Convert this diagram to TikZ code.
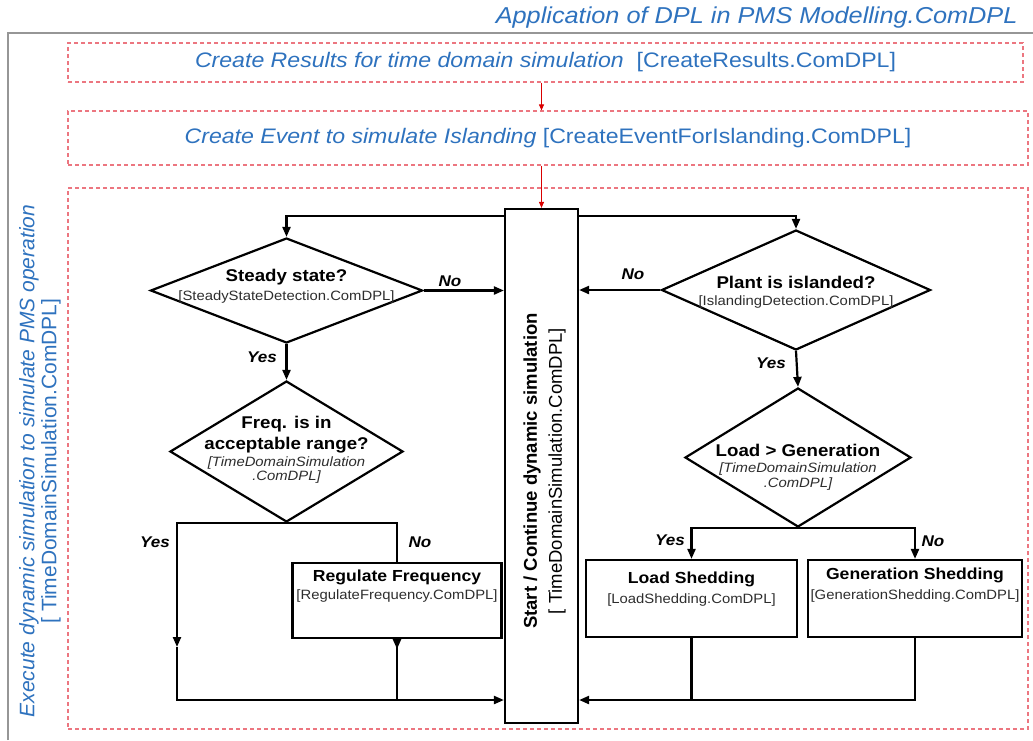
\documentclass[tikz,border=0pt]{standalone}
\usepackage{fontspec}
\setmainfont{Liberation Sans}[FakeStretch=1.1]
\newfontfamily\upfont{Liberation Sans}
\usetikzlibrary{shapes.geometric,arrows.meta,calc}
\definecolor{dplblue}{RGB}{46,114,190}
\definecolor{dashred}{RGB}{236,118,128}
\definecolor{subgray}{RGB}{45,45,45}
\definecolor{framegray}{RGB}{150,150,150}
\newcommand{\fsz}[1]{\fontsize{#1}{#1}\selectfont}

\begin{document}
\begin{tikzpicture}[x=1pt, y=-1pt,
  dashbox/.style={draw=dashred, dash pattern=on 4pt off 3pt, line width=1.2pt, inner sep=0pt},
  blk/.style={draw, line width=2.2pt, inner sep=0pt},
  dia/.style={draw, diamond, line width=2.2pt, inner sep=0pt},
  flow/.style={line width=2.2pt},
  arr/.style={line width=2.2pt, -{Triangle[length=10pt,width=8pt]}},
  redarr/.style={red!85!black, line width=1pt, -{Triangle[length=6pt,width=5pt]}},
  bluetxt/.style={text=dplblue, font=\fsz{21}},
  yn/.style={font=\fsz{15.5}\bfseries\itshape},
  dtxt/.style={align=center, font=\fsz{13.5}, inner sep=0pt},
  btxt/.style={align=center, font=\fsz{13.5}, inner sep=0pt, anchor=north}]
  \useasboundingbox (0,0) rectangle (1033,740);
  \draw[framegray, line width=2pt] (8,740) -- (8,33) -- (1033,33);
  \node[anchor=base east, text=dplblue, font=\fsz{23}\itshape] (title) at (1021,23) {Application of DPL in PMS Modelling.ComDPL};

  % the three script boxes
  \node[dashbox, minimum width=955, minimum height=39, bluetxt] (res) at (545.5,62.5) {\itshape Create Results for time domain simulation\upshape\ \ [CreateResults.ComDPL]};
  \node[dashbox, minimum width=960, minimum height=54, bluetxt] (evt) at (548,138) {\itshape Create Event to simulate Islanding\upshape\ [CreateEventForIslanding.ComDPL]};
  \node[dashbox, minimum width=960, minimum height=541] (exe) at (548,458.5) {};
  \node[rotate=90, align=center, text=dplblue, font=\upfont\fontsize{21}{22}\selectfont] (exetxt) at (40,461) {\itshape Execute dynamic simulation to simulate PMS operation\\{[} TimeDomainSimulation.ComDPL]};

  % simulation block
  \node[blk, minimum width=73, minimum height=514] (sim) at (541.5,466) {};
  \node[rotate=90, align=center, font=\upfont\fontsize{18.5}{25}\selectfont] (simtxt) at ($(sim)+(3,5)$) {\bfseries Start / Continue dynamic simulation\\{[} TimeDomainSimulation.ComDPL]};

  % decisions
  \node[dia, minimum width=272, minimum height=105] (ss) at (286.5,290.5) {};
  \node[dtxt] (sstxt) at (286.5,286) {{\fsz{17}\bfseries Steady state?}\\[5pt]\textcolor{subgray}{[SteadyStateDetection.ComDPL]}};
  \node[dia, minimum width=233, minimum height=141] (freq) at (286.5,451.5) {};
  \node[dtxt] (freqtxt) at (286.5,450) {{\fsz{17}\bfseries Freq. is in}\\[4pt]{\fsz{17}\bfseries acceptable range?}\\[3pt]\textcolor{subgray}{\itshape [TimeDomainSimulation}\\[1pt]\textcolor{subgray}{\itshape .ComDPL]}};
  \node[dia, minimum width=269, minimum height=120] (isl) at (796,290) {};
  \node[dtxt] (isltxt) at (796,292) {{\fsz{17}\bfseries Plant is islanded?}\\[4pt]\textcolor{subgray}{[IslandingDetection.ComDPL]}};
  \node[dia, minimum width=226, minimum height=139] (load) at (798,457.5) {};
  \node[dtxt] (loadtxt) at (798,467) {{\fsz{17}\bfseries Load > Generation}\\[3pt]\textcolor{subgray}{\itshape [TimeDomainSimulation}\\[1pt]\textcolor{subgray}{\itshape .ComDPL]}};

  % actions
  \node[blk, minimum width=209, minimum height=75] (reg) at (397,600.5) {};
  \node[btxt] (regtxt) at ($(reg.north)+(0,8)$) {{\fsz{16}\bfseries Regulate Frequency}\\[4pt]\textcolor{subgray}{[RegulateFrequency.ComDPL]}};
  \node[blk, minimum width=211, minimum height=77] (ls) at (691.5,598.5) {};
  \node[btxt] (lstxt) at ($(ls.north)+(0,13)$) {{\fsz{16}\bfseries Load Shedding}\\[6pt]\textcolor{subgray}{[LoadShedding.ComDPL]}};
  \node[blk, minimum width=214, minimum height=77] (gs) at (915,598.5) {};
  \node[btxt] (gstxt) at ($(gs.north)+(0,9)$) {{\fsz{16}\bfseries Generation Shedding}\\[6pt]\textcolor{subgray}{[GenerationShedding.ComDPL]}};

  % connectors
  \draw[redarr] (sim.north |- res.south) -- (sim.north |- evt.north);
  \draw[redarr] (sim.north |- evt.south) -- (sim.north);
  \draw[arr] ($(sim.north west)+(0,8)$) -| (ss.north);
  \draw[arr] ($(sim.north east)+(0,8)$) -| (isl.north);
  \draw[arr] (ss.east) -- (ss.east -| sim.west);
  \draw[arr] (isl.west) -- (isl.west -| sim.east);
  \draw[arr] (ss.south) -- (freq.north);
  \draw[arr] (isl.south) -- (load.north);

  \coordinate (fyes) at (177,647);
  \coordinate (fend) at (177,700);
  \draw[arr] (freq.south) -| (fyes);
  \draw[arr] (fyes) -- (fend) -- (fend -| sim.west);
  \draw[flow] (freq.south) -| (reg.north);
  \draw[flow, {Triangle[length=10pt,width=8pt,reversed]}-] (reg.south) -- (reg.south |- fend);

  \draw[arr] (load.south) -| (ls.north);
  \draw[arr] (load.south) -| (gs.north);
  \draw[flow] (ls.south) -- (ls.south |- fend);
  \draw[arr] (gs.south) |- (sim.east |- fend);

  % yes / no labels
  \node[yn] (ssno) at (450,281) {No};
  \node[yn] (ssyes) at (262,357) {Yes};
  \node[yn] (islno) at (633,274) {No};
  \node[yn] (islyes) at (771,363) {Yes};
  \node[yn] (fyeslab) at (155,542) {Yes};
  \node[yn] (fnolab) at (420,542) {No};
  \node[yn] (lyeslab) at (670,540) {Yes};
  \node[yn] (lnolab) at (933,541) {No};
\end{tikzpicture}
\end{document}
